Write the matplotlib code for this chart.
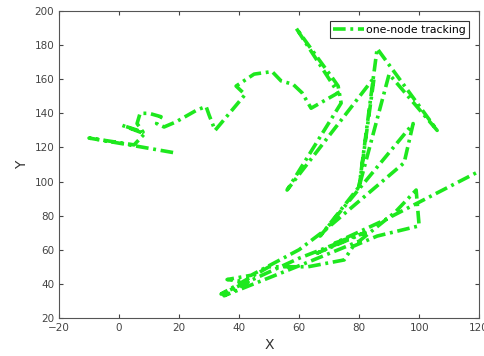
import matplotlib.pyplot as plt

# trajectory points (x, y) in drawing order
track_x = [18, 5, -10, 5, 8.5, 1, 8, 6, 7, 10, 14, 12.5, 15, 19, 26, 29, 30, 32,
           42, 39, 45, 51, 54, 58, 61, 64, 69, 73,
           59, 66, 71, 73, 74, 56, 85, 80, 86, 106, 90, 80, 67, 98, 95, 69,
           60, 44, 36, 43, 35, 62, 80, 92, 99, 100, 86, 78, 75, 63, 50, 34,
           60, 76, 66, 82, 72, 88, 120]
track_y = [117, 121, 125.5, 121.5, 128, 133, 129, 134, 140, 140, 138, 134, 132, 135, 142, 144, 139, 130,
           151, 156, 163, 164.5, 159, 157, 152, 143, 148, 152,
           190, 173, 161, 156, 146, 95, 161, 97, 178, 130, 163, 97, 68, 134, 111, 72,
           60, 45, 42.5, 41, 33, 52, 65, 82, 95, 74, 68, 62, 54, 50, 50, 34,
           55, 66, 58, 70, 64, 77, 106]

fig = plt.figure(figsize=(4.84, 3.56), dpi=100)
ax = fig.add_axes([0.122, 0.107, 0.868, 0.862])

ax.plot(track_x, track_y, color='#1ee81e', linewidth=2.6,
        linestyle=(0, (3.5, 1.3, 0.8, 1.3)), label='one-node tracking')

ax.set_xlim(-20, 120)
ax.set_ylim(20, 200)
ax.set_xticks(range(-20, 121, 20))
ax.set_yticks(range(20, 201, 20))
ax.tick_params(direction='in', top=True, right=True, labelsize=7.5,
               colors='#444444', length=3)
for s in ax.spines.values():
    s.set_color('#555555')
    s.set_linewidth(0.8)

ax.set_xlabel('X', fontsize=10, color='#333333')
ax.set_ylabel('Y', fontsize=10, color='#333333')

leg = ax.legend(loc='upper right', fontsize=7.8, fancybox=False, framealpha=1,
                edgecolor='#333333', handlelength=2.8, borderpad=0.35,
                handletextpad=0.2, borderaxespad=0.9)
leg.get_frame().set_linewidth(0.8)

fig.savefig('out.png', dpi=100)
